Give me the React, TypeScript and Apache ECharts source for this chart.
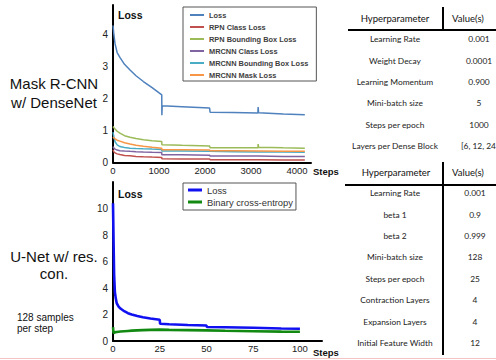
import React, { useEffect, useRef } from "react";
import * as echarts from "echarts";

// ---- Mask R-CNN chart data ----
const topSteps = [0, 20, 45, 90, 150, 250, 370, 500, 660, 850, 1060, 1062, 1070, 1500, 2100, 2110, 2600, 3150, 3155, 3165, 3700, 4170];
const topLoss = [4.3, 4.0, 3.72, 3.45, 3.3, 3.08, 2.9, 2.72, 2.54, 2.35, 2.12, 1.48, 1.78, 1.75, 1.71, 1.58, 1.57, 1.55, 1.74, 1.56, 1.52, 1.5];
const rpnClass = [0.4, 0.33, 0.3, 0.27, 0.25, 0.22, 0.21, 0.19, 0.18, 0.17, 0.16, 0.12, 0.12, 0.11, 0.11, 0.09, 0.09, 0.09, 0.09, 0.09, 0.08, 0.08];
const rpnBox = [1.13, 1.09, 1.05, 0.98, 0.92, 0.84, 0.79, 0.75, 0.71, 0.68, 0.66, 0.56, 0.56, 0.54, 0.52, 0.46, 0.46, 0.46, 0.58, 0.48, 0.46, 0.45];
const mrcnnClass = [0.5, 0.45, 0.42, 0.39, 0.37, 0.36, 0.35, 0.34, 0.33, 0.32, 0.31, 0.24, 0.24, 0.24, 0.23, 0.2, 0.2, 0.2, 0.2, 0.2, 0.19, 0.19];
const mrcnnBox = [0.95, 0.8, 0.65, 0.55, 0.5, 0.47, 0.45, 0.44, 0.43, 0.42, 0.41, 0.36, 0.36, 0.36, 0.35, 0.34, 0.34, 0.33, 0.34, 0.33, 0.33, 0.32];
const mrcnnMask = [0.8, 0.77, 0.74, 0.7, 0.67, 0.62, 0.58, 0.54, 0.51, 0.48, 0.45, 0.4, 0.4, 0.4, 0.39, 0.37, 0.37, 0.36, 0.36, 0.36, 0.35, 0.35];
const topNames = ["Loss", "RPN Class Loss", "RPN Bounding Box Loss", "MRCNN Class Loss", "MRCNN Bounding Box Loss", "MRCNN Mask Loss"];
const topColors = ["#4F81BD", "#C0504D", "#9BBB59", "#8064A2", "#4BACC6", "#F79646"];

// ---- U-Net chart data ----
const botSteps = [0, 0.3, 0.6, 1, 1.5, 2, 3, 4, 6, 8, 10, 13, 16, 20, 25, 25.2, 30, 40, 50, 50.2, 60, 75, 75.2, 90, 100];
const unetLoss = [10.4, 7.5, 5.0, 3.7, 3.2, 2.85, 2.6, 2.45, 2.25, 2.1, 2.0, 1.88, 1.79, 1.7, 1.6, 1.3, 1.26, 1.21, 1.17, 1.06, 1.04, 1.0, 0.96, 0.94, 0.92];
const bce = [1.05, 0.6, 0.62, 0.65, 0.67, 0.68, 0.7, 0.72, 0.74, 0.76, 0.78, 0.8, 0.82, 0.84, 0.86, 0.82, 0.84, 0.82, 0.8, 0.76, 0.77, 0.74, 0.72, 0.71, 0.7];

// ---- tables ----
const table1Params = ["Learning Rate", "Weight Decay", "Learning Momentum", "Mini-batch size", "Steps per epoch", "Layers per Dense Block"];
const table1Values = ["0.001", "0.0001", "0.900", "5", "1000", "[6, 12, 24, 16]"];
const table2Params = ["Learning Rate", "beta 1", "beta 2", "Mini-batch size", "Steps per epoch", "Contraction Layers", "Expansion Layers", "Initial Feature Width"];
const table2Values = ["0.001", "0.9", "0.999", "128", "25", "4", "4", "12"];

const ARIAL = "Liberation Sans, Arial, sans-serif";
const TFONT = "Lato, sans-serif";

export default function App() {
  const ref = useRef<HTMLDivElement>(null);
  useEffect(() => {
    if (!ref.current) return;
    const chart = echarts.init(ref.current, null, { renderer: "svg" });
    const topSeries = [topLoss, rpnClass, rpnBox, mrcnnClass, mrcnnBox, mrcnnMask].map((arr, k) => ({
      name: topNames[k],
      type: "line",
      xAxisIndex: 0,
      yAxisIndex: 0,
      showSymbol: false,
      symbol: "none",
      lineStyle: { color: topColors[k], width: 1.5 },
      itemStyle: { color: topColors[k] },
      data: topSteps.map((s, i) => [s, arr[i]]),
    }));
    // draw order: cyan under orange
    const order = [1, 3, 4, 2, 5, 0];
    const topOrdered = order.map((k, idx) => ({ ...topSeries[k], z: 2 + idx * 0.01 }));

    const botSeries = [
      { name: "U-Net Loss", color: "#1010F0", arr: unetLoss },
      { name: "Binary cross-entropy", color: "#128A12", arr: bce },
    ].map((d) => ({
      name: d.name,
      type: "line",
      xAxisIndex: 1,
      yAxisIndex: 1,
      showSymbol: false,
      symbol: "none",
      lineStyle: { color: d.color, width: 2.6 },
      itemStyle: { color: d.color },
      data: botSteps.map((s, i) => [s, d.arr[i]]),
    }));

    const axisLine = { show: true, onZero: false, lineStyle: { color: "#000", width: 2 } };
    const labelStyle = { color: "#222", fontFamily: ARIAL };

    const graphic: any[] = [];
    const txt = (text: string, x: number, y: number, o: any = {}) =>
      graphic.push({
        type: "text",
        x,
        y,
        silent: true,
        style: {
          text,
          fill: o.fill || "#111",
          fontSize: o.size || 10,
          fontFamily: o.family || ARIAL,
          fontWeight: o.weight || "normal",
          align: o.align || "center",
          verticalAlign: "middle",
        },
      });
    const ln = (x1: number, y1: number, x2: number, y2: number, w = 2, c = "#000") =>
      graphic.push({ type: "line", silent: true, shape: { x1, y1, x2, y2 }, style: { stroke: c, lineWidth: w } });

    // left labels
    txt("Mask R-CNN", 54, 83, { size: 15 });
    txt("w/ DenseNet", 54, 102, { size: 15 });
    txt("U-Net w/ res.", 54, 256, { size: 15 });
    txt("con.", 54, 273, { size: 15 });
    txt("128 samples", 17, 317, { size: 10, align: "left" });
    txt("per step", 17, 328, { size: 10, align: "left" });

    // axis titles
    txt("Loss", 118, 15, { size: 10.5, weight: "bold", align: "left" });
    txt("Loss", 118, 194, { size: 10.5, weight: "bold", align: "left" });
    txt("Steps", 313, 171, { size: 9.5, weight: "bold", align: "left" });
    txt("Steps", 313, 352, { size: 9.5, weight: "bold", align: "left" });

    // table 1
    txt("Hyperparameter", 395, 18, { size: 9.5, family: TFONT, fill: "#111" });
    txt("Value(s)", 468, 18, { size: 9.5, family: TFONT, fill: "#111" });
    ln(443, 7, 443, 31);
    ln(348, 30, 496, 30);
    const rows1 = [39, 61, 82, 103, 125, 146];
    table1Params.forEach((p, i) => {
      txt(p, 395, rows1[i], { size: 8.4, family: TFONT, fill: "#222" });
      if (i === table1Values.length - 1) txt(table1Values[i], 461, rows1[i], { size: 8.4, family: TFONT, fill: "#222", align: "left" });
      else txt(table1Values[i], 479, rows1[i], { size: 8.4, family: TFONT, fill: "#222" });
    });

    // table 2
    txt("Hyperparameter", 396, 172, { size: 9.5, family: TFONT, fill: "#111" });
    txt("Value(s)", 468, 172, { size: 9.5, family: TFONT, fill: "#111" });
    ln(443, 162, 443, 355);
    ln(345, 185, 496, 185);
    const rows2 = [193, 215, 236, 257, 279, 300, 322, 343];
    table2Params.forEach((p, i) => {
      txt(p, 395, rows2[i], { size: 8.4, family: TFONT, fill: "#222" });
      txt(table2Values[i], 475, rows2[i], { size: 8.4, family: TFONT, fill: "#222" });
    });

    // bottom border line
    ln(0, 358.5, 496, 358.5, 1, "#F2C4C4");

    chart.setOption({
      animation: false,
      backgroundColor: "#fff",
      grid: [
        { left: 113, top: 5, width: 198, height: 157.5 },
        { left: 113, top: 182, width: 209, height: 159 },
      ],
      xAxis: [
        {
          type: "value",
          gridIndex: 0,
          min: 0,
          max: 4304,
          interval: 1000,
          axisLine,
          axisTick: { show: false },
          splitLine: { show: false },
          axisLabel: {
            ...labelStyle,
            fontSize: 9.5,
            margin: 3,
            formatter: (v: number) => (v % 1000 === 0 ? String(v) : ""),
          },
        },
        {
          type: "value",
          gridIndex: 1,
          min: 0,
          max: 111.8,
          interval: 25,
          axisLine,
          axisTick: { show: false },
          splitLine: { show: false },
          axisLabel: {
            ...labelStyle,
            fontSize: 9.5,
            margin: 2,
            formatter: (v: number) => (v % 25 === 0 ? String(v) : ""),
          },
        },
      ],
      yAxis: [
        {
          type: "value",
          gridIndex: 0,
          min: 0,
          max: 4.94,
          interval: 1,
          axisLine,
          axisTick: { show: false },
          splitLine: { show: false },
          axisLabel: {
            ...labelStyle,
            fontSize: 10,
            margin: 5,
            formatter: (v: number) => (Number.isInteger(v) ? String(v) : ""),
          },
        },
        {
          type: "value",
          gridIndex: 1,
          min: 0,
          max: 12,
          interval: 2,
          axisLine,
          axisTick: { show: false },
          splitLine: { show: false },
          axisLabel: {
            ...labelStyle,
            fontSize: 10,
            margin: 5,
            formatter: (v: number) => (v < 12 ? String(v) : ""),
          },
        },
      ],
      legend: [
        {
          data: topNames,
          orient: "vertical",
          left: 183,
          top: 7,
          padding: [2, 8, 0, 7],
          itemGap: 0,
          itemWidth: 14,
          itemHeight: 2,
          itemTextGap: 1,
          icon: "rect",
          selectedMode: false,
          borderColor: "#555",
          borderWidth: 1,
          textStyle: { color: "#404040", fontFamily: ARIAL, fontWeight: "bold", fontSize: 7.4, lineHeight: 12 },
        },
        {
          data: ["U-Net Loss", "Binary cross-entropy"],
          orient: "vertical",
          left: 183,
          top: 183,
          padding: [1, 3, 2, 5],
          itemGap: 0,
          itemWidth: 14,
          itemHeight: 3,
          itemTextGap: 9,
          icon: "rect",
          selectedMode: false,
          borderColor: "#555",
          borderWidth: 1,
          formatter: (n: string) => (n === "U-Net Loss" ? "Loss" : n),
          textStyle: { color: "#333", fontFamily: ARIAL, fontSize: 9.4, lineHeight: 12 },
        },
      ],
      series: [...topOrdered, ...botSeries],
      graphic,
    } as any);
    return () => chart.dispose();
  }, []);
  return <div ref={ref} style={{ position: "absolute", left: 0, top: 0, width: 496, height: 360 }} />;
}
